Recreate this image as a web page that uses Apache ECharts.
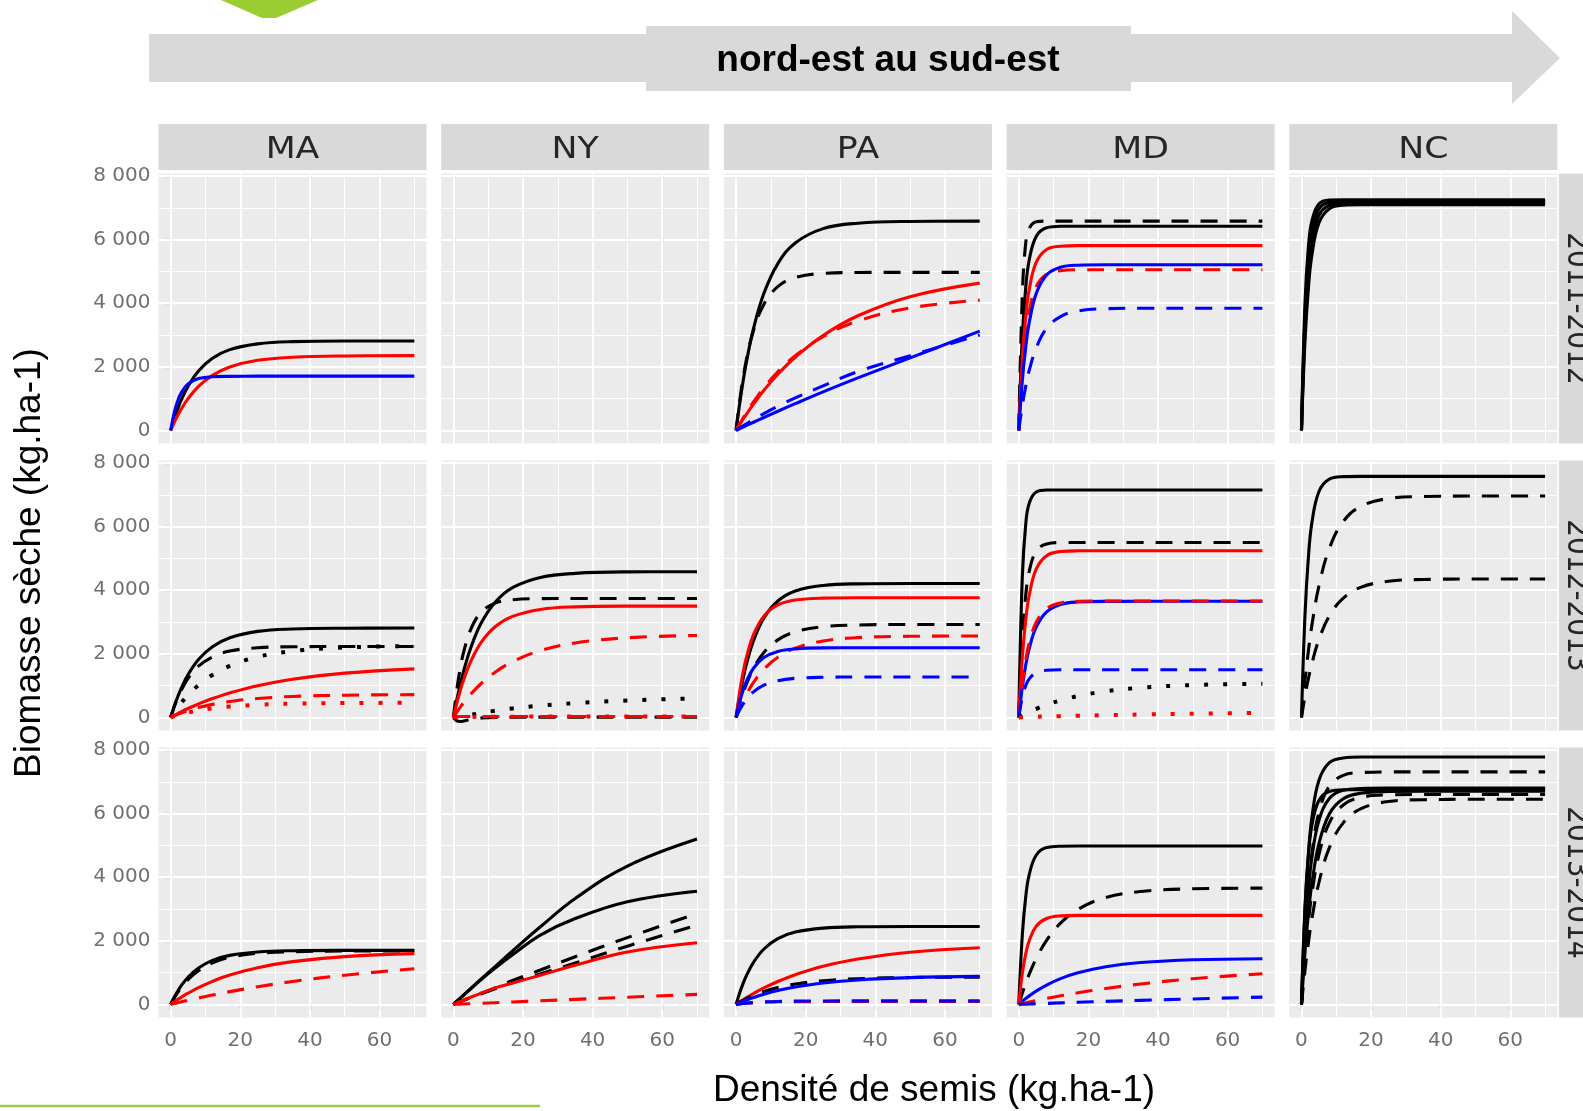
<!DOCTYPE html>
<html>
<head>
  <meta charset="UTF-8">
  <title>Biomasse sèche - densité de semis</title>
  <script src="https://cdn.jsdelivr.net/npm/echarts@6.0.0/dist/echarts.min.js"></script>
  <style>
    html, body { margin: 0; padding: 0; background: #ffffff; }
    #main { width: 1583px; height: 1111px; }
  </style>
</head>
<body>
<div id="main"></div>

<script type="text/javascript">
  // sites (colonnes) et saisons (lignes)
  var sites = ['MA', 'NY', 'PA', 'MD', 'NC'];
  var saisons = ['2011-2012', '2012-2013', '2013-2014'];
  var xTicks = [0, 20, 40, 60];
  var yTicks = [0, 2000, 4000, 6000, 8000];
  // densité de semis (kg.ha-1) où les courbes sont lues
  var densite = [0, 1, 2, 3, 5, 8, 12, 17, 25, 35, 50, 70];

  // [couleur, type de trait, biomasse lue à chaque densité]
  var MA_1112 = [
    ['noir', 'plein', [0, 360, 675, 950, 1390, 1870, 2270, 2540, 2720, 2790, 2810, 2810]],
    ['rouge', 'plein', [0, 247, 468, 665, 1000, 1385, 1730, 1995, 2205, 2300, 2340, 2350]],
    ['bleu', 'plein', [0, 550, 925, 1175, 1460, 1630, 1690, 1700, 1705, 1705, 1705, 1705]]
  ];
  var NY_1112 = [];
  var PA_1112 = [
    ['noir', 'plein', [0, 820, 1540, 2165, 3200, 4310, 5245, 5895, 6345, 6515, 6570, 6580]],
    ['noir', 'tirets', [0, 900, 1640, 2240, 3140, 3970, 4520, 4805, 4935, 4965, 4970, 4970]],
    ['rouge', 'plein', [0, 178, 350, 515, 825, 1260, 1765, 2300, 2985, 3605, 4205, 4630]],
    ['rouge', 'tirets', [0, 196, 383, 560, 895, 1340, 1840, 2345, 2945, 3440, 3850, 4095]],
    ['bleu', 'plein', [0, 52, 104, 155, 256, 406, 602, 840, 1210, 1650, 2280, 3120]],
    ['bleu', 'tirets', [0, 72, 142, 210, 340, 530, 760, 1020, 1400, 1850, 2350, 3000]]
  ];
  var MD_1112 = [
    ['noir', 'tirets', [0, 4200, 5900, 6350, 6560, 6580, 6580, 6580, 6580, 6580, 6580, 6580]],
    ['noir', 'plein', [0, 2900, 4490, 5360, 6100, 6370, 6420, 6420, 6420, 6420, 6420, 6420]],
    ['rouge', 'plein', [0, 2210, 3590, 4430, 5280, 5690, 5790, 5810, 5810, 5810, 5810, 5810]],
    ['rouge', 'tirets', [0, 1830, 2990, 3740, 4520, 4910, 5025, 5050, 5050, 5050, 5050, 5050]],
    ['bleu', 'plein', [0, 1535, 2620, 3390, 4300, 4890, 5130, 5195, 5210, 5210, 5210, 5210]],
    ['bleu', 'tirets', [0, 770, 1390, 1885, 2590, 3210, 3580, 3755, 3825, 3840, 3840, 3840]]
  ];
  var NC_1112 = [
    ['noir', 'plein', [0, 3990, 5790, 6590, 7120, 7240, 7250, 7250, 7250, 7250, 7250, 7250]],
    ['noir', 'plein', [0, 3550, 5350, 6265, 6960, 7170, 7200, 7200, 7200, 7200, 7200, 7200]],
    ['noir', 'plein', [0, 3145, 4905, 5890, 6760, 7080, 7145, 7150, 7150, 7150, 7150, 7150]],
    ['noir', 'plein', [0, 2790, 4490, 5515, 6520, 6970, 7085, 7100, 7100, 7100, 7100, 7100]]
  ];

  var MA_1213 = [
    ['noir', 'plein', [0, 343, 643, 907, 1345, 1820, 2220, 2505, 2705, 2780, 2805, 2810]],
    ['noir', 'tirets', [0, 330, 610, 850, 1230, 1610, 1900, 2085, 2190, 2220, 2230, 2230]],
    ['noir', 'points', [0, 163, 313, 452, 705, 1015, 1335, 1620, 1905, 2085, 2200, 2240]],
    ['rouge', 'plein', [0, 60, 117, 173, 279, 422, 592, 770, 995, 1198, 1391, 1527]],
    ['rouge', 'tirets', [0, 49, 94, 136, 212, 309, 409, 501, 595, 658, 698, 715]],
    ['rouge', 'points', [0, 35, 68, 98, 152, 218, 284, 342, 398, 432, 452, 458]]
  ];
  var NY_1213 = [
    ['noir', 'plein', [0, 558, 1050, 1478, 2190, 2965, 3620, 4080, 4400, 4530, 4575, 4580]],
    ['noir', 'tirets', [0, 885, 1560, 2075, 2770, 3310, 3595, 3700, 3735, 3740, 3740, 3740]],
    ['rouge', 'plein', [0, 457, 855, 1200, 1760, 2360, 2850, 3175, 3395, 3475, 3498, 3500]],
    ['rouge', 'tirets', [0, 166, 322, 466, 731, 1066, 1422, 1752, 2100, 2342, 2505, 2575]],
    ['noir', 'points', [0, 10, 25, 40, 80, 140, 210, 280, 370, 450, 530, 600]],
    ['noir', 'tirets', [0, -110, -130, -110, -60, -20, 0, 5, 10, 10, 10, 10]],
    ['rouge', 'tirets', [0, 20, 30, 30, 30, 30, 30, 30, 30, 30, 30, 30]],
    ['rouge', 'points', [0, 5, 10, 12, 15, 18, 20, 22, 25, 25, 25, 25]]
  ];
  var PA_1213 = [
    ['noir', 'plein', [0, 657, 1212, 1685, 2410, 3130, 3660, 3975, 4150, 4200, 4210, 4210]],
    ['rouge', 'plein', [0, 787, 1410, 1900, 2600, 3185, 3535, 3690, 3750, 3760, 3760, 3760]],
    ['noir', 'tirets', [0, 406, 756, 1057, 1542, 2041, 2438, 2692, 2853, 2905, 2920, 2920]],
    ['rouge', 'tirets', [0, 271, 514, 730, 1098, 1515, 1892, 2178, 2404, 2509, 2550, 2560]],
    ['bleu', 'plein', [0, 475, 848, 1139, 1546, 1881, 2074, 2155, 2186, 2190, 2190, 2190]],
    ['bleu', 'tirets', [0, 230, 419, 573, 803, 1013, 1154, 1228, 1261, 1270, 1270, 1270]]
  ];
  var MD_1213 = [
    ['noir', 'plein', [0, 4380, 6080, 6735, 7085, 7150, 7150, 7150, 7150, 7150, 7150, 7150]],
    ['noir', 'tirets', [0, 2480, 3845, 4593, 5225, 5455, 5497, 5500, 5500, 5500, 5500, 5500]],
    ['rouge', 'plein', [0, 1865, 3065, 3840, 4660, 5085, 5215, 5238, 5240, 5240, 5240, 5240]],
    ['bleu', 'plein', [0, 945, 1645, 2165, 2836, 3318, 3550, 3628, 3648, 3650, 3650, 3650]],
    ['rouge', 'tirets', [0, 1055, 1805, 2340, 2990, 3420, 3600, 3650, 3660, 3660, 3660, 3660]],
    ['bleu', 'tirets', [0, 635, 1000, 1212, 1404, 1482, 1499, 1500, 1500, 1500, 1500, 1500]],
    ['noir', 'points', [0, 60, 116, 170, 268, 395, 535, 671, 821, 933, 1017, 1060]],
    ['rouge', 'points', [0, 5, 10, 15, 22, 30, 40, 50, 70, 90, 115, 140]]
  ];
  var NC_1213 = [
    ['noir', 'plein', [0, 3205, 5055, 6125, 7095, 7490, 7570, 7580, 7580, 7580, 7580, 7580]],
    ['noir', 'tirets', [0, 1148, 2102, 2902, 4127, 5310, 6160, 6633, 6883, 6946, 6960, 6960]],
    ['noir', 'tirets', [0, 661, 1222, 1696, 2445, 3189, 3750, 4089, 4280, 4337, 4350, 4350]]
  ];

  var MA_1314 = [
    ['noir', 'plein', [0, 222, 415, 583, 855, 1146, 1384, 1542, 1649, 1688, 1699, 1700]],
    ['noir', 'tirets', [0, 198, 371, 526, 781, 1062, 1305, 1480, 1606, 1658, 1677, 1680]],
    ['rouge', 'plein', [0, 78, 152, 221, 352, 527, 724, 922, 1155, 1346, 1503, 1595]],
    ['rouge', 'tirets', [0, 27, 53, 79, 131, 202, 293, 401, 554, 719, 919, 1120]]
  ];
  var NY_1314 = [
    ['noir', 'plein', [0, 100, 200, 300, 500, 800, 1190, 1680, 2440, 3330, 4350, 5200]],
    ['noir', 'plein', [0, 100, 200, 295, 490, 780, 1140, 1560, 2180, 2700, 3230, 3560]],
    ['noir', 'tirets', [0, 45, 90, 135, 220, 350, 520, 750, 1080, 1500, 2100, 2860]],
    ['noir', 'tirets', [0, 45, 88, 130, 215, 335, 490, 680, 960, 1300, 1830, 2490]],
    ['rouge', 'plein', [0, 45, 90, 135, 225, 355, 520, 670, 920, 1230, 1650, 1940]],
    ['rouge', 'tirets', [0, 5, 9, 14, 23, 36, 54, 77, 113, 158, 225, 315]]
  ];
  var PA_1314 = [
    ['noir', 'plein', [0, 352, 654, 911, 1321, 1742, 2068, 2273, 2399, 2440, 2450, 2450]],
    ['rouge', 'plein', [0, 74, 145, 213, 342, 517, 720, 933, 1197, 1427, 1640, 1782]],
    ['noir', 'tirets', [0, 66, 127, 183, 284, 407, 531, 639, 744, 808, 845, 857]],
    ['bleu', 'plein', [0, 48, 94, 137, 216, 320, 435, 546, 672, 769, 842, 881]],
    ['rouge', 'tirets', [0, 16, 30, 41, 57, 72, 82, 87, 89, 90, 90, 90]],
    ['bleu', 'tirets', [0, 15, 28, 40, 58, 77, 92, 102, 108, 110, 110, 110]]
  ];
  var MD_1314 = [
    ['noir', 'plein', [0, 2160, 3385, 4080, 4690, 4930, 4975, 4980, 4980, 4980, 4980, 4980]],
    ['noir', 'tirets', [0, 348, 664, 949, 1440, 2016, 2558, 2990, 3360, 3550, 3635, 3656]],
    ['rouge', 'plein', [0, 960, 1590, 2005, 2458, 2702, 2783, 2800, 2800, 2800, 2800, 2800]],
    ['bleu', 'plein', [0, 95, 185, 268, 418, 609, 809, 993, 1185, 1315, 1402, 1437]],
    ['rouge', 'tirets', [0, 25, 49, 73, 120, 187, 270, 365, 499, 641, 807, 966]],
    ['bleu', 'tirets', [0, 4, 8, 12, 20, 32, 48, 68, 96, 128, 172, 230]]
  ];
  var NC_1314 = [
    ['noir', 'plein', [0, 2918, 4738, 5882, 7041, 7601, 7750, 7780, 7780, 7780, 7780, 7780]],
    ['noir', 'tirets', [0, 2156, 3677, 4751, 6038, 6864, 7200, 7288, 7310, 7310, 7310, 7310]],
    ['noir', 'plein', [0, 2149, 3618, 4624, 5780, 6474, 6732, 6786, 6800, 6800, 6800, 6800]],
    ['noir', 'plein', [0, 3045, 4718, 5636, 6413, 6696, 6750, 6750, 6750, 6750, 6750, 6750]],
    ['noir', 'plein', [0, 1635, 2874, 3806, 5045, 5990, 6466, 6640, 6693, 6700, 6700, 6700]],
    ['noir', 'tirets', [0, 1459, 2597, 3483, 4701, 5710, 6270, 6506, 6587, 6600, 6600, 6600]],
    ['noir', 'tirets', [0, 1064, 1948, 2690, 3825, 4921, 5708, 6147, 6379, 6437, 6450, 6450]]
  ];

  var panneaux = [
    [MA_1112, NY_1112, PA_1112, MD_1112, NC_1112],
    [MA_1213, NY_1213, PA_1213, MD_1213, NC_1213],
    [MA_1314, NY_1314, PA_1314, MD_1314, NC_1314]
  ];

  // styles
  var couleurs = { noir: '#000000', rouge: '#ff0000', bleu: '#0000ff' };
  var traits = { plein: 'solid', tirets: [17, 12], points: [4, 15] };

  // mise en page des facettes
  var colLeft = [158.5, 441.2, 723.9, 1006.6, 1289.3];
  var rowTop = [173.5, 460.5, 747.5];
  var PW = 268, PH = 270;
  var tickFont = 'DejaVu Sans';

  function lignesGrille() {
    var major = { color: '#ffffff', width: 1.8, type: 'solid' };
    var minor = { color: '#ffffff', width: 0.9, type: 'solid' };
    var d = [];
    [1000, 3000, 5000, 7000].forEach(function (v) { d.push({ yAxis: v, lineStyle: minor }); });
    [10, 30, 50, 70].forEach(function (v) { d.push({ xAxis: v, lineStyle: minor }); });
    yTicks.forEach(function (v) { d.push({ yAxis: v, lineStyle: major }); });
    xTicks.forEach(function (v) { d.push({ xAxis: v, lineStyle: major }); });
    return d;
  }

  var grid = [], xAxis = [], yAxis = [], series = [], graphic = [];

  for (var r = 0; r < 3; r++) {
    for (var c = 0; c < 5; c++) {
      var g = r * 5 + c;
      grid.push({
        left: colLeft[c], top: rowTop[r], width: PW, height: PH,
        show: true, backgroundColor: '#ebebeb', borderWidth: 0,
        outerBoundsMode: 'none', containLabel: false
      });
      xAxis.push({
        gridIndex: g, type: 'value', min: -3.5, max: 73.5,
        axisLine: { show: false },
        splitLine: { show: false },
        axisTick: { show: r === 2, customValues: xTicks, length: 5, lineStyle: { color: '#555555', width: 1.2 } },
        axisLabel: { show: r === 2, customValues: xTicks, margin: 13, color: '#707070', fontSize: 20, fontFamily: tickFont }
      });
      yAxis.push({
        gridIndex: g, type: 'value', min: -412, max: 8078,
        axisLine: { show: false },
        splitLine: { show: false },
        axisTick: { show: c === 0, customValues: yTicks, length: 5, lineStyle: { color: '#555555', width: 1.2 } },
        axisLabel: {
          show: c === 0, customValues: yTicks, margin: 8, color: '#707070', fontSize: 20, fontFamily: tickFont,
          formatter: function (v) { return v === 0 ? '0' : (v / 1000) + ' 000'; }
        }
      });
      // quadrillage façon ggplot
      series.push({
        type: 'line', xAxisIndex: g, yAxisIndex: g, data: [], silent: true,
        markLine: { z: 1, silent: true, animation: false, symbol: ['none', 'none'], label: { show: false }, data: lignesGrille() }
      });
      panneaux[r][c].forEach(function (courbe) {
        var t = courbe[1];
        series.push({
          type: 'line', xAxisIndex: g, yAxisIndex: g, z: 3,
          data: densite.map(function (x, i) { return [x, courbe[2][i]]; }),
          showSymbol: false, symbol: 'none', smooth: 0.4, silent: true,
          emphasis: { disabled: true },
          lineStyle: { color: couleurs[courbe[0]], width: t === 'points' ? 4 : 3.1, type: traits[t] }
        });
      });
    }
  }

  // bandeaux des facettes
  sites.forEach(function (s, c) {
    graphic.push({ type: 'rect', shape: { x: colLeft[c], y: 124, width: PW, height: 46 }, style: { fill: '#d9d9d9' } });
    graphic.push({
      type: 'text', x: colLeft[c] + PW / 2, y: 150, scaleX: 1.12,
      style: { text: s, font: '31px "DejaVu Sans"', fill: '#262626', align: 'center', verticalAlign: 'middle' }
    });
  });
  saisons.forEach(function (s, r) {
    graphic.push({ type: 'rect', shape: { x: 1559, y: rowTop[r], width: 60, height: PH }, style: { fill: '#d9d9d9' } });
    graphic.push({
      type: 'text', x: 1576, y: rowTop[r] + PH / 2, rotation: -Math.PI / 2, scaleY: 1.15,
      style: { text: s, font: '28px "DejaVu Sans"', fill: '#262626', align: 'center', verticalAlign: 'middle' }
    });
  });

  // flèche et décor de la diapositive
  graphic.push({ type: 'polygon', shape: { points: [[221, 0], [318, 0], [276, 18], [262, 18]] }, style: { fill: '#9acd32' } });
  graphic.push({
    type: 'polygon',
    shape: { points: [[149, 34], [1512, 34], [1512, 11], [1560, 58], [1512, 104], [1512, 82], [149, 82]] },
    style: { fill: '#d9d9d9' }
  });
  graphic.push({ type: 'rect', shape: { x: 646, y: 26, width: 485, height: 65 }, style: { fill: '#d9d9d9' } });
  graphic.push({
    type: 'text', x: 888, y: 61,
    style: { text: 'nord-est au sud-est', font: 'bold 37px "Liberation Sans"', fill: '#000000', align: 'center', verticalAlign: 'middle' }
  });
  graphic.push({ type: 'line', shape: { x1: 0, y1: 1106, x2: 540, y2: 1106 }, style: { stroke: '#9bcb4b', lineWidth: 2.5 } });

  // titres des axes
  graphic.push({
    type: 'text', x: 30, y: 563, rotation: Math.PI / 2,
    style: { text: 'Biomasse sèche (kg.ha-1)', font: '37px "Liberation Sans"', fill: '#000000', align: 'center', verticalAlign: 'middle' }
  });
  graphic.push({
    type: 'text', x: 934, y: 1091,
    style: { text: 'Densité de semis (kg.ha-1)', font: '37px "Liberation Sans"', fill: '#000000', align: 'center', verticalAlign: 'middle' }
  });

  var myChart = echarts.init(document.getElementById('main'));
  var option = {
    animation: false,
    tooltip: { show: false },
    grid: grid,
    xAxis: xAxis,
    yAxis: yAxis,
    series: series,
    graphic: graphic
  };
  myChart.setOption(option);
</script>
</body>
</html>
